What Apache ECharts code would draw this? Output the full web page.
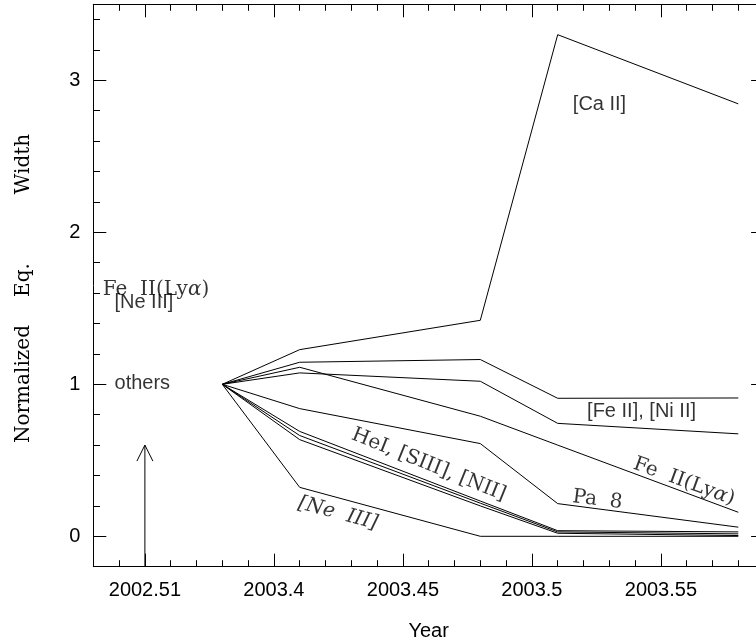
<!DOCTYPE html>
<html>
<head>
<meta charset="utf-8">
<script src="https://cdn.jsdelivr.net/npm/echarts@6/dist/echarts.min.js"></script>
<style>
  html, body { margin: 0; padding: 0; background: #fff; }
  #chart { width: 756px; height: 643px; }
</style>
</head>
<body>
<div id="chart"></div>
<script>
// ---- data ----
const X_EPOCHS = [2003.38, 2003.41, 2003.48, 2003.51, 2003.58];
const CA_II        = [1, 1.228, 1.421, 3.30, 2.845];
const FE_II_NI_II1 = [1, 1.145, 1.163, 0.908, 0.910];
const FE_II_NI_II2 = [1, 1.075, 1.020, 0.743, 0.674];
const FE_II_LYA    = [1, 1.112, 0.790, 0.600, 0.158];
const PA_8         = [1, 0.840, 0.610, 0.215, 0.060];
const HE_I         = [1, 0.690, 0.232, 0.037, 0.029];
const S_III        = [1, 0.663, 0.218, 0.029, 0.016];
const N_II         = [1, 0.636, 0.200, 0.020, 0.005];
const NE_III       = [1, 0.322, 0.000, 0.000, 0.000];
const SERIES_VALUES = [CA_II, FE_II_NI_II1, FE_II_NI_II2, FE_II_LYA, PA_8, HE_I, S_III, N_II, NE_III];

const X_MIN = 2003.33, X_MAX = 2003.59;
const Y_MIN = -0.2, Y_MAX = 3.5;
const X_MAJOR_TICKS = [2003.35, 2003.4, 2003.45, 2003.5, 2003.55];
const X_TICK_LABELS = ['2002.51', '2003.4', '2003.45', '2003.5', '2003.55'];
const X_MINOR_TICKS = [2003.34, 2003.36, 2003.37, 2003.38, 2003.39, 2003.41, 2003.42, 2003.43, 2003.44,
                       2003.46, 2003.47, 2003.48, 2003.49, 2003.51, 2003.52, 2003.53, 2003.54,
                       2003.56, 2003.57, 2003.58];
const Y_MAJOR_TICKS = [0, 1, 2, 3];
const Y_TICK_LABELS = ['0', '1', '2', '3'];
const Y_MINOR_TICKS = [0.2, 0.4, 0.6, 0.8, 1.2, 1.4, 1.6, 1.8, 2.2, 2.4, 2.6, 2.8, 3.2, 3.4];

const X_TITLE = 'Year';
const Y_TITLE_WORDS = ['Normalized', 'Eq.', 'Width'];

// earlier epoch marker (arrow)
const ARROW_X = 2003.35, ARROW_FROM = -0.2, ARROW_TO = 0.6;

// text annotations in data coordinates
const ANNOTATIONS = [
  { text: '[Ca II]', x: 2003.5262, y: 2.84 },
  { text: '[Fe II], [Ni II]', x: 2003.5425, y: 0.822 },
  { text: 'Fe  II(Ly', greek: 'α', x: 2003.559, y: 0.36 },
  { text: 'Pa  8', x: 2003.5254, y: 0.24 },
  { text: 'HeI, [SIII], [NII]', x: 2003.460, y: 0.47 },
  { text: '[Ne  III]', x: 2003.4248, y: 0.15 },
  { text: 'Fe  II(Ly', greek: 'α', x: 2003.3543, y: 1.623 },
  { text: '[Ne III]', x: 2003.3496, y: 1.541 },
  { text: 'others', x: 2003.349, y: 1.0046 }
];
// ---- styling ----
const SANS = 'Liberation Sans';
const SERIF = 'DejaVu Serif';
const ANN_STYLE = [
  { font: SANS, rotate: 0 },
  { font: SANS, rotate: 0 },
  { font: SERIF, rotate: -20 },
  { font: SERIF, rotate: -7 },
  { font: SERIF, rotate: -22 },
  { font: SERIF, rotate: -15, italic: true },
  { font: SERIF, rotate: 0 },
  { font: SANS, rotate: 0 },
  { font: SANS, rotate: 0 }
];
// pixel centres (y) of the three rotated y-title words, and their x centre
const Y_TITLE_POS = [384, 280, 164];
const Y_TITLE_X = 24;

function labelFor(vals, labels) {
  return function (v) {
    for (let i = 0; i < vals.length; i++) if (Math.abs(v - vals[i]) < 1e-6) return labels[i];
    return '';
  };
}

const chart = echarts.init(document.getElementById('chart'), null, { renderer: 'canvas' });
const axisLine = { show: true, onZero: false, lineStyle: { color: '#000', width: 1 } };

function xAx(pos, major, withLabels) {
  return {
    type: 'value', gridIndex: 0, position: pos, min: X_MIN, max: X_MAX,
    axisLine: major ? axisLine : { show: false, onZero: false },
    splitLine: { show: false },
    axisTick: { show: true, inside: true, length: major ? 13 : 6.5,
                customValues: major ? X_MAJOR_TICKS : X_MINOR_TICKS,
                lineStyle: { color: '#000', width: 1 } },
    axisLabel: withLabels ? { show: true, customValues: X_MAJOR_TICKS, formatter: labelFor(X_MAJOR_TICKS, X_TICK_LABELS),
                              color: '#000', fontFamily: SANS, fontSize: 20, margin: 14 } : { show: false },
    name: withLabels ? X_TITLE : '',
    nameLocation: 'middle', nameGap: 55,
    nameTextStyle: { color: '#000', fontFamily: SANS, fontSize: 20 }
  };
}
function yAx(pos, major, withLabels) {
  return {
    type: 'value', gridIndex: 0, position: pos, min: Y_MIN, max: Y_MAX,
    axisLine: major ? axisLine : { show: false, onZero: false },
    splitLine: { show: false },
    axisTick: { show: true, inside: true, length: major ? 13 : 6.7,
                customValues: major ? Y_MAJOR_TICKS : Y_MINOR_TICKS,
                lineStyle: { color: '#000', width: 1 } },
    axisLabel: withLabels ? { show: true, customValues: Y_MAJOR_TICKS, formatter: labelFor(Y_MAJOR_TICKS, Y_TICK_LABELS),
                              color: '#000', fontFamily: SANS, fontSize: 20, margin: 13 } : { show: false }
  };
}

const lineSeries = SERIES_VALUES.map(function (vals) {
  return {
    type: 'line', xAxisIndex: 0, yAxisIndex: 0, silent: true,
    data: X_EPOCHS.map(function (x, i) { return [x, vals[i]]; }),
    symbol: 'none', lineStyle: { color: '#000', width: 1 }, itemStyle: { color: '#000' },
    emphasis: { disabled: true }, animation: false, z: 3
  };
});

const arrowSeries = {
  type: 'line', xAxisIndex: 0, yAxisIndex: 0, silent: true, animation: false,
  lineStyle: { color: '#000', width: 1 },
  data: [
    { value: [ARROW_X, ARROW_FROM], symbol: 'none' },
    { value: [ARROW_X, ARROW_TO], symbol: 'path://M0,16 L8,0 L16,16', symbolSize: [16, 16],
      symbolOffset: [0, 8], itemStyle: { color: 'rgba(0,0,0,0)', borderColor: '#000', borderWidth: 1 } }
  ],
  showSymbol: true, showAllSymbol: true,
  emphasis: { disabled: true }
};

const annSeries = {
  type: 'scatter', xAxisIndex: 0, yAxisIndex: 0, silent: true, animation: false,
  symbolSize: 1, itemStyle: { color: 'rgba(0,0,0,0)' }, z: 5,
  data: ANNOTATIONS.map(function (a, i) {
    const st = ANN_STYLE[i];
    const base = { fontFamily: st.font, fontSize: 20, color: '#000', fontStyle: st.italic ? 'italic' : 'normal' };
    const fmt = a.greek ? '{n|' + a.text + '}{g|' + a.greek + '}{n|)}' : a.text;
    return {
      value: [a.x, a.y],
      label: Object.assign({ show: true, position: 'inside', rotate: st.rotate, formatter: fmt,
        rich: { n: Object.assign({}, base), g: Object.assign({}, base, { fontStyle: 'italic' }) } }, base)
    };
  }),
  emphasis: { disabled: true }
};

chart.setOption({
  backgroundColor: '#fff',
  animation: false,
  grid: { left: 93.3, top: 4.3, width: 670.8, height: 562.4, outerBoundsMode: 'none', containLabel: false },
  xAxis: [xAx('bottom', true, true), xAx('bottom', false, false), xAx('top', true, false), xAx('top', false, false)],
  yAxis: [yAx('left', true, true), yAx('left', false, false), yAx('right', true, false), yAx('right', false, false)],
  graphic: Y_TITLE_WORDS.map(function (w, i) {
    return {
      type: 'text', x: Y_TITLE_X, y: Y_TITLE_POS[i], rotation: Math.PI / 2, silent: true,
      style: { text: w, fontFamily: SERIF, fontSize: 20, fill: '#000', align: 'center', verticalAlign: 'middle' }
    };
  }),
  series: lineSeries.concat([arrowSeries, annSeries])
});
</script>
</body>
</html>
